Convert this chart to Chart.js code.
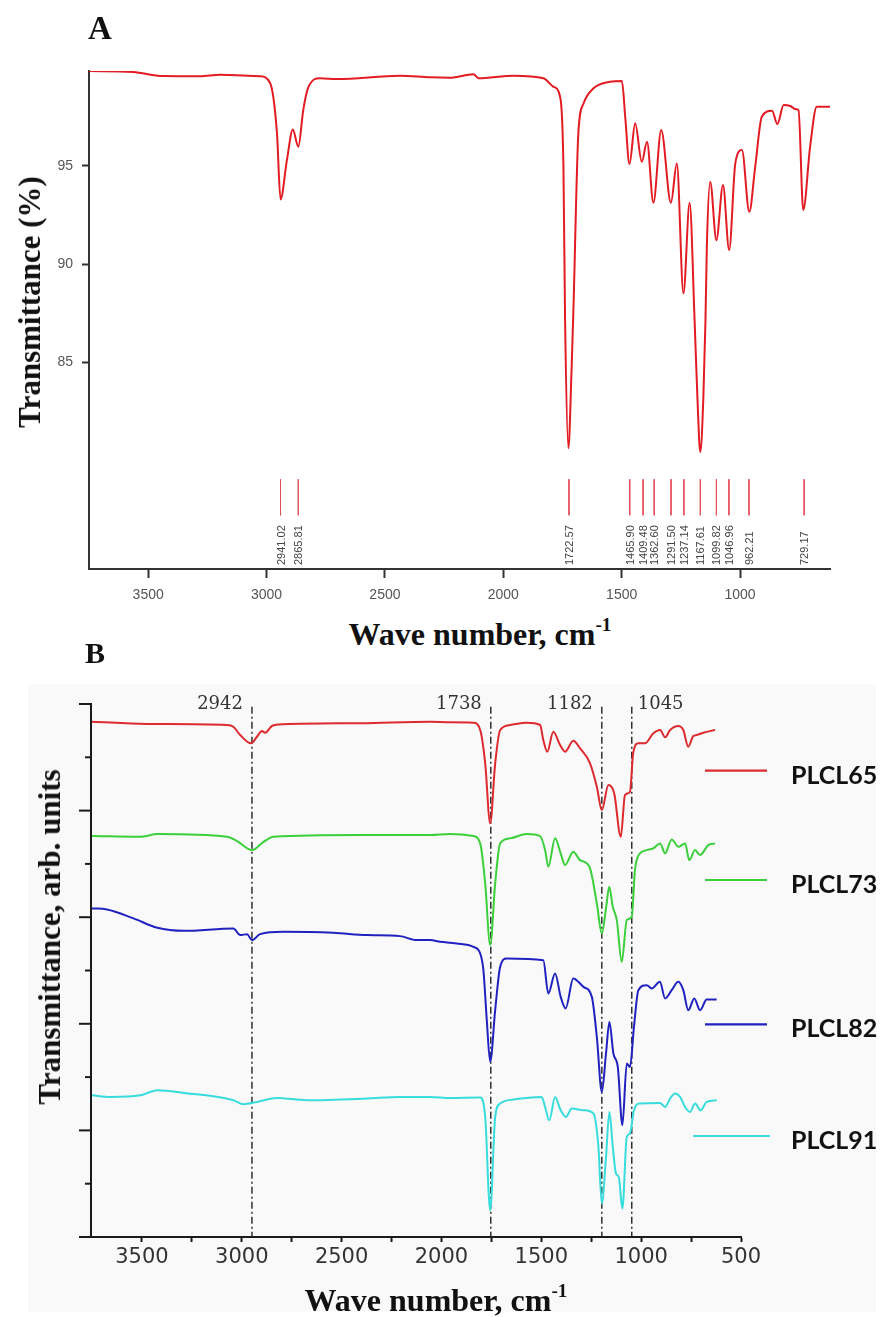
<!DOCTYPE html>
<html>
<head>
<meta charset="utf-8">
<script src="https://cdn.jsdelivr.net/npm/chart.js@4.4.1/dist/chart.umd.min.js"></script>
<style>
  html, body { margin: 0; padding: 0; background: #fff; }
  body { width: 881px; height: 1317px; position: relative; overflow: hidden; }
  canvas { position: absolute; left: 0; }
  #chartA { top: 0; }
  #chartB { top: 660px; }
  .bgB { position: absolute; left: 28px; top: 684px; width: 848px; height: 628px; background: #f9f9f9; }
  .letter { position: absolute; font-family: "Liberation Serif", serif; font-weight: bold; line-height: 1; color: #111; }
  .title { position: absolute; font-family: "Liberation Serif", serif; font-weight: bold; font-size: 32px; line-height: 32px; color: #111; white-space: nowrap; }
  .title sup { font-size: 0.6em; line-height: 0; vertical-align: 0.75em; }
  .htitle { transform: translateX(-50%); }
  .vtitle { font-size: 31px; transform: translate(-50%, -50%) rotate(-90deg); }
</style>
</head>
<body>
<div class="bgB"></div>
<canvas id="chartA" width="881" height="610"></canvas>
<canvas id="chartB" width="881" height="657"></canvas>

<div class="letter" style="left:88px; top:12px; font-size:33px;">A</div>
<div class="letter" style="left:85px; top:638px; font-size:30px;">B</div>
<div class="title vtitle" style="left:30px; top:302px;">Transmittance (%)</div>
<div class="title htitle" style="left:480px; top:618px;">Wave number, cm<sup>-1</sup></div>
<div class="title vtitle" style="left:50px; top:937px;">Transmittance, arb. units</div>
<div class="title htitle" style="left:436px; top:1284px;">Wave number, cm<sup>-1</sup></div>

<script>
// ── PANEL A : FTIR spectrum (transmittance %) ─────────────────
const waveA = [3750, 3564, 3437, 3281, 3196, 3027, 2985, 2956, 2941, 2914, 2889, 2866, 2845, 2825,
  2774, 2703, 2436, 2309, 2225, 2126, 2105, 1957, 1830, 1788, 1760, 1746, 1739, 1725, 1712, 1704,
  1683, 1661, 1619, 1549, 1499, 1485, 1467, 1443, 1415, 1393, 1366, 1333, 1292, 1267, 1239, 1213,
  1192, 1180, 1168, 1155, 1146, 1140, 1126, 1100, 1072, 1046, 1020, 992, 961, 936, 908, 865, 842,
  816, 788, 763, 753, 733, 704, 676, 620];
const transA = [99.82, 99.77, 99.56, 99.55, 99.63, 99.55, 99.21, 96.66, 93.29, 95.29, 96.85, 95.97, 97.83, 98.95,
  99.45, 99.41, 99.58, 99.50, 99.48, 99.66, 99.45, 99.58, 99.45, 99.02, 98.51, 94.95, 87.15, 80.64, 84.5, 87.6,
  96.65, 98.17, 98.94, 99.27, 99.31, 97.49, 95.09, 97.16, 95.20, 96.22, 93.12, 96.82, 93.12, 95.12, 88.51, 93.12,
  87.15, 83.2, 80.45, 83.2, 87.15, 91.0, 94.19, 91.22, 94.02, 90.71, 95.12, 95.80, 92.66, 94.95, 97.49, 97.80, 97.12,
  98.09, 98.04, 97.87, 97.83, 92.75, 95.97, 98.00, 98.00];

const peaksA      = [2941.02, 2865.81, 1722.57, 1465.90, 1409.48, 1362.60, 1291.50, 1237.14,
  1167.61, 1099.82, 1046.96, 962.21, 729.17];
const peakLabelsA = ["2941.02", "2865.81", "1722.57", "1465.90", "1409.48", "1362.60", "1291.50", "1237.14",
  "1167.61", "1099.82", "1046.96", "962.21", "729.17"];

const ticksAX = [3500, 3000, 2500, 2000, 1500, 1000];
const ticksAY = [85, 90, 95];

// ── PANEL B : four PLCL spectra (arb. units, offset) ──────────
const wave65 = [3750, 3475, 3075, 3042, 3008, 2953, 2924, 2899, 2883, 2849, 2791, 2400, 2057, 1957, 1840,
  1806, 1781, 1756, 1731, 1706, 1656, 1573, 1506, 1490, 1470, 1440, 1406, 1381, 1340, 1306, 1256, 1222,
  1197, 1164, 1135, 1102, 1081, 1056, 1040, 1014, 981, 939, 905, 880, 855, 814, 789, 764, 739, 722, 689, 630];
const val65  = [9.668, 9.625, 9.606, 9.574, 9.418, 9.262, 9.386, 9.493, 9.461, 9.587, 9.619, 9.64, 9.668, 9.656, 9.649,
  9.512, 8.887, 7.761, 8.887, 9.512, 9.606, 9.649, 9.606, 9.324, 9.105, 9.48, 9.23, 9.105, 9.311, 9.168, 8.887, 8.448,
  8.01, 8.479, 8.324, 7.509, 8.292, 8.354, 9.074, 9.262, 9.262, 9.45, 9.512, 9.375, 9.512, 9.587, 9.512, 9.198, 9.399, 9.418, 9.461, 9.512];

const wave73 = [3750, 3507, 3423, 3075, 3025, 2949, 2891, 2841, 2400, 2057, 1957, 1840, 1806, 1781, 1756,
  1731, 1706, 1656, 1573, 1506, 1481, 1465, 1431, 1403, 1381, 1340, 1306, 1259, 1222, 1197, 1175, 1160,
  1142, 1122, 1097, 1072, 1047, 1031, 1006, 972, 939, 905, 880, 847, 814, 780, 759, 730, 705, 664, 630];
const val73  = [7.522, 7.509, 7.56, 7.509, 7.434, 7.259, 7.415, 7.509, 7.54, 7.541, 7.56, 7.522, 7.385, 6.634, 5.476,
  6.634, 7.385, 7.479, 7.56, 7.522, 7.259, 6.946, 7.479, 7.197, 6.978, 7.227, 7.071, 6.946, 6.259, 5.695, 6.195, 6.57,
  6.195, 5.945, 5.162, 5.945, 6.007, 6.884, 7.197, 7.259, 7.291, 7.385, 7.197, 7.46, 7.321, 7.385, 7.071, 7.259, 7.165, 7.353, 7.385];

const wave82 = [3750, 3675, 3542, 3423, 3290, 3042, 3008, 2974, 2949, 2908, 2791, 2541, 2374, 2208, 2124,
  2057, 2007, 1957, 1924, 1840, 1806, 1790, 1773, 1756, 1731, 1706, 1673, 1490, 1465, 1431, 1403, 1378,
  1340, 1289, 1247, 1222, 1197, 1176, 1159, 1139, 1117, 1094, 1072, 1056, 1036, 1014, 972, 947, 906,
  880, 847, 814, 789, 764, 734, 705, 672, 622];
const val82  = [6.165, 6.146, 5.977, 5.801, 5.744, 5.789, 5.664, 5.682, 5.57, 5.682, 5.726, 5.707, 5.664, 5.645, 5.57,
  5.57, 5.538, 5.519, 5.508, 5.444, 5.32, 5.007, 4.068, 3.285, 4.256, 5.068, 5.226, 5.194, 4.569, 4.945, 4.505, 4.288,
  4.851, 4.693, 4.505, 3.754, 2.722, 3.443, 4.036, 3.443, 3.191, 2.097, 3.255, 3.191, 3.942, 4.631, 4.725, 4.663, 4.787,
  4.475, 4.631, 4.787, 4.631, 4.256, 4.475, 4.256, 4.457, 4.457];

const wave91 = [3750, 3658, 3507, 3423, 3290, 3042, 2992, 2924, 2824, 2674, 2374, 2208, 2057, 1957, 1806,
  1781, 1756, 1731, 1706, 1640, 1498, 1481, 1460, 1431, 1403, 1376, 1348, 1289, 1239, 1214, 1197, 1177,
  1159, 1142, 1126, 1112, 1094, 1072, 1056, 1036, 1006, 906, 880, 855, 830, 805, 780, 755, 730, 702, 672, 622];
const val91  = [2.66, 2.628, 2.66, 2.754, 2.703, 2.566, 2.491, 2.534, 2.609, 2.566, 2.598, 2.628, 2.628, 2.609, 2.617,
  2.253, 0.501, 2.253, 2.504, 2.579, 2.628, 2.44, 2.191, 2.628, 2.378, 2.253, 2.41, 2.378, 2.316, 1.69, 0.627, 1.44,
  2.347, 1.69, 1.19, 1.126, 0.533, 1.877, 1.941, 2.378, 2.504, 2.515, 2.44, 2.598, 2.692, 2.628, 2.44, 2.347, 2.504, 2.378, 2.534, 2.566];

const bandPosB    = [2949, 1753, 1197, 1047];
const bandLabelsB = ["2942", "1738", "1182", "1045"];

const ticksBX = [3500, 3250, 3000, 2750, 2500, 2250, 2000, 1750, 1500, 1250, 1000, 750, 500];
const ticksBY = [0, 1, 2, 3, 4, 5, 6, 7, 8, 9, 10];

const toPoints = (xs, ys) => xs.map((x, i) => ({ x, y: ys[i] }));

// ── CHART A ───────────────────────────────────────────────────
const peakLabelPlugin = {
  id: "peakLabels",
  afterDatasetsDraw(chart) {
    const { ctx, chartArea, scales: { x } } = chart;
    ctx.save();
    ctx.font = "11px 'Liberation Sans', Arial, sans-serif";
    ctx.fillStyle = "#444";
    ctx.textAlign = "left";
    ctx.textBaseline = "middle";
    peaksA.forEach((p, i) => {
      ctx.save();
      ctx.translate(x.getPixelForValue(p) + 1, chartArea.bottom - 4);
      ctx.rotate(-Math.PI / 2);
      ctx.fillText(peakLabelsA[i], 0, 0);
      ctx.restore();
    });
    ctx.restore();
  }
};

const peakMarks = peaksA.flatMap(p => [{ x: p, y: 79.06 }, { x: p, y: 77.23 }, { x: p, y: null }]);

new Chart(document.getElementById("chartA").getContext("2d"), {
  type: "line",
  data: {
    datasets: [
      {
        label: "FTIR",
        data: toPoints(waveA, transA),
        borderColor: "#e31b23",
        borderWidth: 2,
        pointRadius: 0,
        cubicInterpolationMode: "monotone",
      },
      {
        label: "peaks",
        data: peakMarks,
        borderColor: "#e3505c",
        borderWidth: 1,
        pointRadius: 0,
        spanGaps: false,
      },
    ],
  },
  options: {
    responsive: false,
    animation: false,
    layout: { padding: { top: 71, right: 51, left: 0, bottom: 0 } },
    plugins: { legend: { display: false }, tooltip: { enabled: false } },
    scales: {
      x: {
        type: "linear",
        reverse: true,
        min: 620,
        max: 3750,
        afterBuildTicks: s => { s.ticks = ticksAX.map(v => ({ value: v })); },
        afterFit: s => { s.height = 41; },
        ticks: {
          color: "#555",
          font: { family: "'Liberation Sans', Arial", size: 14 },
          padding: 9,
          maxRotation: 0,
          callback: v => String(v),
        },
        grid: { drawOnChartArea: false, tickLength: 9, tickColor: "#333", tickWidth: 2 },
        border: { color: "#333", width: 2 },
      },
      y: {
        min: 74.5,
        max: 99.82,
        afterBuildTicks: s => { s.ticks = ticksAY.map(v => ({ value: v })); },
        afterFit: s => { s.width = 89; },
        ticks: { color: "#555", font: { family: "'Liberation Sans', Arial", size: 14 }, padding: 9 },
        grid: { drawOnChartArea: false, tickLength: 7, tickColor: "#333", tickWidth: 2 },
        border: { color: "#333", width: 2 },
      },
    },
  },
  plugins: [peakLabelPlugin],
});

// ── CHART B ───────────────────────────────────────────────────
const yTicksPlugin = {
  id: "yTicksB",
  afterDraw(chart) {
    const { ctx, chartArea, scales: { y } } = chart;
    ctx.save();
    ctx.strokeStyle = "#1a1a1a";
    ctx.lineWidth = 2;
    ticksBY.forEach(v => {
      const py = y.getPixelForValue(v);
      const len = v % 2 === 0 ? 12 : 6;
      ctx.beginPath();
      ctx.moveTo(chartArea.left, py);
      ctx.lineTo(chartArea.left - len, py);
      ctx.stroke();
    });
    ctx.restore();
  }
};

const bandLabelPlugin = {
  id: "bandLabels",
  afterDraw(chart) {
    const { ctx, scales: { x, y } } = chart;
    ctx.save();
    ctx.font = "18px 'DejaVu Serif', serif";
    ctx.fillStyle = "#333";
    ctx.textBaseline = "middle";
    bandPosB.forEach((p, i) => {
      const px = x.getPixelForValue(p);
      const right = i === bandPosB.length - 1;
      ctx.textAlign = right ? "left" : "right";
      ctx.fillText(bandLabelsB[i], right ? px + 6 : px - 9, y.getPixelForValue(10));
    });
    ctx.restore();
  }
};

const legendRowsB = [110.7, 220, 364.3, 476];
const legendPlugin = {
  id: "legendB",
  afterDraw(chart) {
    const { ctx } = chart;
    ctx.save();
    ctx.font = "bold 25px Lato, 'Liberation Sans', sans-serif";
    ctx.textAlign = "left";
    ctx.textBaseline = "middle";
    chart.data.datasets.slice(0, 4).forEach((ds, i) => {
      const ly = legendRowsB[i];
      ctx.strokeStyle = ds.borderColor;
      ctx.lineWidth = 2.2;
      ctx.beginPath();
      ctx.moveTo(i === 3 ? 693 : 705, ly);
      ctx.lineTo(i === 3 ? 770 : 767, ly);
      ctx.stroke();
      ctx.fillStyle = "#111";
      ctx.fillText(ds.label, 791, ly + 5);
    });
    ctx.restore();
  }
};

const spectrum = (label, xs, ys, color) => ({
  label,
  data: toPoints(xs, ys),
  borderColor: color,
  borderWidth: 2,
  pointRadius: 0,
  cubicInterpolationMode: "monotone",
});

const bandLines = bandPosB.map(p => ({
  label: "band " + p,
  data: [{ x: p, y: 9.95 }, { x: p, y: 0 }],
  borderColor: "#222",
  borderWidth: 1.4,
  borderDash: [7, 3, 2, 3],
  pointRadius: 0,
}));

new Chart(document.getElementById("chartB").getContext("2d"), {
  type: "line",
  data: {
    datasets: [
      spectrum("PLCL65", wave65, val65, "#dc2a2e"),
      spectrum("PLCL73", wave73, val73, "#3ccf3c"),
      spectrum("PLCL82", wave82, val82, "#2022c0"),
      spectrum("PLCL91", wave91, val91, "#38dcdc"),
      ...bandLines,
    ],
  },
  options: {
    responsive: false,
    animation: false,
    layout: { padding: { top: 44, right: 140, left: 0, bottom: 0 } },
    plugins: { legend: { display: false }, tooltip: { enabled: false } },
    scales: {
      x: {
        type: "linear",
        reverse: true,
        min: 500,
        max: 3755,
        afterBuildTicks: s => { s.ticks = ticksBX.map(v => ({ value: v })); },
        afterFit: s => { s.height = 80; },
        ticks: {
          color: "#333",
          font: { family: "'DejaVu Sans', Verdana, sans-serif", size: 21 },
          padding: 3,
          maxRotation: 0,
          autoSkip: false,
          callback: v => (v % 500 === 0 ? String(v) : ""),
        },
        grid: { drawOnChartArea: false, tickLength: 5, tickColor: "#1a1a1a", tickWidth: 2 },
        border: { color: "#1a1a1a", width: 2 },
      },
      y: {
        min: 0,
        max: 10,
        afterFit: s => { s.width = 91; },
        ticks: { display: false },
        grid: { drawOnChartArea: false, drawTicks: false },
        border: { color: "#1a1a1a", width: 2 },
      },
    },
  },
  plugins: [yTicksPlugin, bandLabelPlugin, legendPlugin],
});
</script>
</body>
</html>
